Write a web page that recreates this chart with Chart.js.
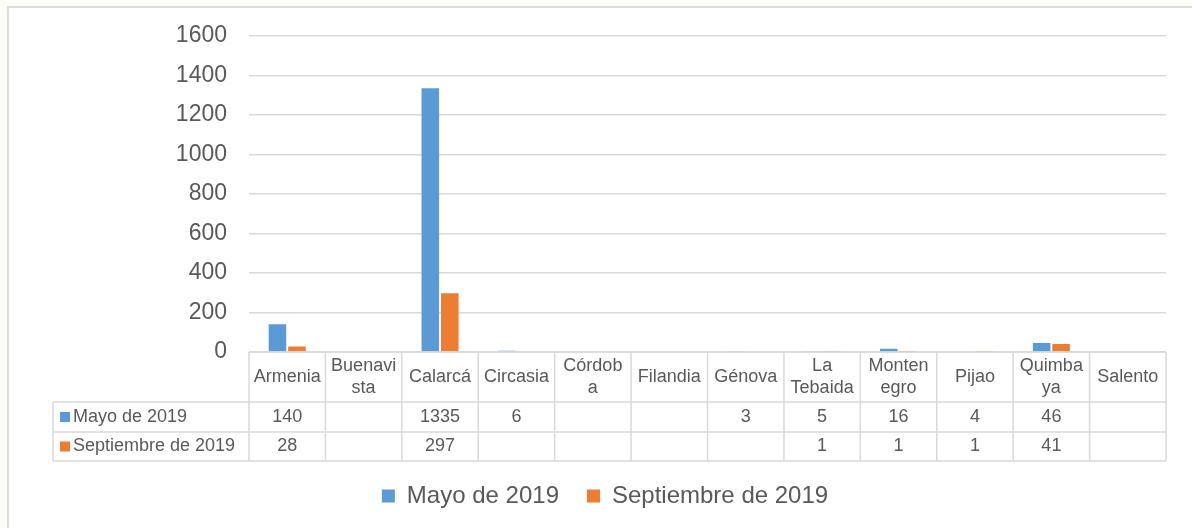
<!DOCTYPE html>
<html>
<head>
<meta charset="utf-8">
<title>Mayo vs Septiembre 2019</title>
<script src="https://cdn.jsdelivr.net/npm/chart.js@4.4.0/dist/chart.umd.min.js"></script>
<style>
    body { margin: 0; background: #fdfdf7; }
    #frame { position: absolute; left: 7px; top: 6px; width: 1200px; height: 540px; background: #fff; border: 2px solid #dcdcdc; }
    #wrap { position: absolute; left: 0; top: 0; width: 1192px; height: 528px; }
</style>
</head>
<body>
<div id="frame"></div>
<div id="wrap"><canvas id="chart"></canvas></div>
<script>
// categorias tal como se ven (con el corte de linea del original)
const municipios = [['Armenia'], ['Buenavi', 'sta'], ['Calarcá'], ['Circasia'], ['Córdob', 'a'], ['Filandia'],
    ['Génova'], ['La', 'Tebaida'], ['Monten', 'egro'], ['Pijao'], ['Quimba', 'ya'], ['Salento']];
const mayo2019 = [140, null, 1335, 6, null, null, 3, 5, 16, 4, 46, null];
const septiembre2019 = [28, null, 297, null, null, null, null, 1, 1, 1, 41, null];
const yTicks = [0, 200, 400, 600, 800, 1000, 1200, 1400, 1600];

const azul = '#5b9bd5';
const naranja = '#ed7d31';
const gris = '#595959';
const linea = '#d9d9d9';
const fuente = '"Liberation Sans", Arial, sans-serif';

// tabla de datos debajo del grafico (como en Excel)
const tablaPlugin = {
    id: 'tabla',
    afterLayout(chart) {
        // la leyenda de Excel queda centrada en todo el marco, no en el area del grafico
        chart.legend.left += 22;
        chart.legend.right += 22;
    },
    afterDraw(chart) {
        const ctx = chart.ctx;
        const area = chart.chartArea;
        const xs = chart.scales.x;
        const n = municipios.length;
        const w = (area.right - area.left) / n;
        const top = area.bottom;
        const y1 = top + 50, y2 = y1 + 30, y3 = y2 + 29;
        const xLabel = 53;
        const series = [
            { name: 'Mayo de 2019', color: azul, data: mayo2019 },
            { name: 'Septiembre de 2019', color: naranja, data: septiembre2019 }
        ];

        ctx.save();
        ctx.strokeStyle = linea;
        ctx.lineWidth = 1.5;
        ctx.beginPath();
        ctx.moveTo(area.left, top); ctx.lineTo(area.right, top);
        [y1, y2, y3].forEach(y => { ctx.moveTo(xLabel, y); ctx.lineTo(area.right, y); });
        for (let i = 0; i <= n; i++) {
            const x = area.left + i * w;
            ctx.moveTo(x, top); ctx.lineTo(x, y3);
        }
        ctx.moveTo(xLabel, y1); ctx.lineTo(xLabel, y3);
        ctx.stroke();

        ctx.fillStyle = gris;
        ctx.font = '18px ' + fuente;
        ctx.textAlign = 'center';
        ctx.textBaseline = 'middle';
        municipios.forEach((lines, i) => {
            const cx = xs.getPixelForValue(i);
            const mid = (top + y1) / 2;
            if (lines.length === 1) {
                ctx.fillText(lines[0], cx, mid);
            } else {
                ctx.fillText(lines[0], cx, mid - 11);
                ctx.fillText(lines[1], cx, mid + 11);
            }
        });

        series.forEach((s, r) => {
            const yc = r === 0 ? (y1 + y2) / 2 : (y2 + y3) / 2;
            ctx.fillStyle = s.color;
            ctx.fillRect(xLabel + 7, yc - 5, 10, 10);
            ctx.fillStyle = gris;
            ctx.textAlign = 'left';
            ctx.fillText(s.name, xLabel + 20, yc);
            ctx.textAlign = 'center';
            s.data.forEach((v, i) => {
                if (v !== null) ctx.fillText(String(v), xs.getPixelForValue(i), yc);
            });
        });
        ctx.restore();
    }
};

new Chart(document.getElementById('chart'), {
    type: 'bar',
    data: {
        labels: municipios.map(l => l.join('')),
        datasets: [{
            label: 'Mayo de 2019',
            data: mayo2019,
            backgroundColor: azul,
            borderWidth: 0
        }, {
            label: 'Septiembre de 2019',
            data: septiembre2019,
            backgroundColor: naranja,
            borderWidth: 0
        }]
    },
    options: {
        responsive: true,
        maintainAspectRatio: false,
        animation: false,
        categoryPercentage: 0.51,
        barPercentage: 0.9,
        layout: { padding: { left: 0, right: 26, top: 35, bottom: 10 } },
        plugins: {
            tooltip: { enabled: false },
            legend: {
                position: 'bottom',
                labels: {
                    boxWidth: 13,
                    boxHeight: 13,
                    padding: 28,
                    color: gris,
                    font: { family: fuente, size: 24 }
                }
            }
        },
        scales: {
            x: {
                grid: { display: false },
                border: { display: false },
                ticks: { display: false },
                afterFit(scale) { scale.height = 104; }
            },
            y: {
                min: 0,
                max: 1600,
                afterBuildTicks(scale) { scale.ticks = yTicks.map(v => ({ value: v })); },
                afterFit(scale) { scale.width = 249; },
                grid: { color: linea, lineWidth: 1.5, drawTicks: false },
                border: { display: false },
                ticks: {
                    padding: 22,
                    color: gris,
                    font: { family: fuente, size: 23 },
                    callback: v => String(v)
                }
            }
        }
    },
    plugins: [tablaPlugin]
});
</script>
</body>
</html>
